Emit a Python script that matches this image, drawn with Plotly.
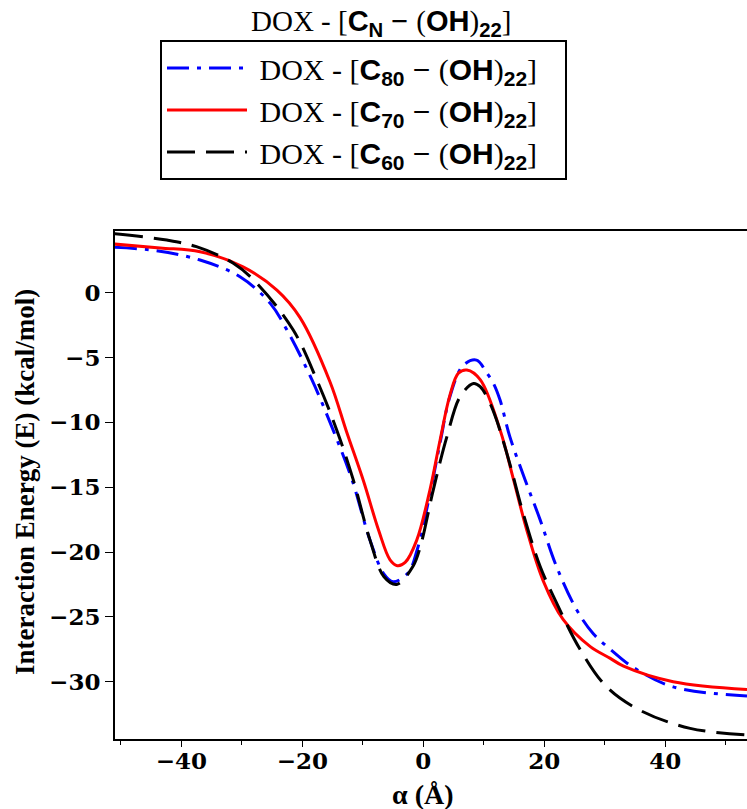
import plotly.graph_objects as go

# ---------------- data ----------------
x_c80 = [-51, -44.1, -36.9, -30.3, -25.3, -22.4, -18.4, -14.9, -11.8, -8.8, -6.5, -5.0,
         -2.5, -1.0, 1.1, 2.8, 4.4, 6.6, 8.8, 10.5, 11.6, 12.7, 14.3, 16.8, 19.3, 22.0,
         25.4, 28.1, 31.4, 34.7, 41.3, 53.5]
e_c80 = [3.50, 3.24, 2.52, 1.23, -0.82, -3.0, -6.73, -10.6, -14.4, -19.1, -21.7, -22.3,
         -21.6, -19.8, -15.5, -11.5, -8.0, -5.6, -5.2, -6.2, -7.0, -8.3, -11.1, -14.4, -17.5, -21.1,
         -24.5, -26.3, -27.7, -28.9, -30.4, -31.1]

x_c70 = [-51, -43.5, -36.9, -29.8, -24.2, -20.4, -15.4, -12.7, -9.9, -7.4, -5.5,
         -4.3, -3.0, -1.1, 1.1, 2.76, 4.4, 5.8, 7.2, 9.4, 12.7, 14.9, 17.1, 19.8, 23.1,
         27.6, 30.9, 33.1, 41.3, 53.5]
e_c70 = [3.75, 3.45, 3.16, 2.0, 0.2, -1.9, -6.9, -10.7, -14.5, -18.3, -20.6,
         -21.05, -20.8, -19.1, -15.2, -11.4, -7.9, -6.2, -5.96, -6.7, -10.6, -14.4, -18.3, -22.2, -25.2,
         -27.3, -28.2, -28.8, -30.0, -30.6]

x_c60 = [-51, -42.4, -37.5, -31.4, -27.5, -21.5, -17.6, -14.3, -11.6, -8.8, -6.5,
         -4.4, -1.7, -0.5, 1.65, 3.9, 6.1, 8.3, 9.4, 11.0, 12.1, 14.3, 16.5, 19.3, 22.0,
         25.9, 30.3, 35.8, 44.1, 53.5]
e_c60 = [4.55, 4.06, 3.55, 2.27, 0.72, -2.88, -6.73, -10.6, -14.4, -19.1, -21.9,
         -22.5, -21.1, -19.6, -15.2, -11.1, -8.0, -7.0, -7.25, -8.5, -9.8, -13.2, -17.0, -21.1, -23.9,
         -27.5, -30.4, -32.2, -33.6, -34.1]

series_n = ["80", "70", "60"]
series_colors = ["#0000ff", "#ff0000", "#000000"]
series_dash = ["22px,8px,4px,8px", "solid", "28px,11px"]

xtick_vals = [-40, -20, 0, 20, 40]
xtick_text = ["\u221240", "\u221220", "0", "20", "40"]
ytick_vals = [0, -5, -10, -15, -20, -25, -30]
ytick_text = ["0", "\u22125", "\u221210", "\u221215", "\u221220", "\u221225", "\u221230"]

SERIF = "Liberation Serif"
SANS = "Liberation Sans"
TICKFONT = "DejaVu Serif"
NB = "\u00a0"


def label(n):
    s = f'<span style="font-family:{SANS}">'
    return (f'{NB}DOX - [{s}<b>C<sub>{n}</sub></b></span>{s} \u2212 </span>'
            f'({s}<b>OH</b></span>)<sub>{s}<b>22</b></span></sub>]{NB}{NB}{NB}')


fig = go.Figure()
for xs, ys, n, c, d in zip([x_c80, x_c70, x_c60], [e_c80, e_c70, e_c60],
                           series_n, series_colors, series_dash):
    fig.add_trace(go.Scatter(x=xs, y=ys, mode="lines", name=label(n),
                             line=dict(color=c, width=3, dash=d, shape="spline", smoothing=1.0)))

W, H = 747, 809
L, R, T, B = 115, 0, 231, 809 - 739
pw, ph = W - L - R, H - T - B


def px(xp):
    return (xp - L) / pw


def py(yp):
    return (H - B - yp) / ph


fig.update_layout(
    width=W, height=H,
    margin=dict(l=L, r=R, t=T, b=B, autoexpand=False),
    paper_bgcolor="white", plot_bgcolor="white",
    showlegend=True,
    legend=dict(
        x=px(160), y=py(40),
        xanchor="left", yanchor="top",
        bgcolor="white", bordercolor="black", borderwidth=2,
        font=dict(family=SERIF, size=30, color="black"),
        itemwidth=80, tracegroupgap=0,
    ),
    xaxis=dict(
        range=[-50.96, 53.5], showgrid=False, zeroline=False,
        showline=True, linecolor="black", linewidth=2, mirror=True,
        ticks="outside", ticklen=6, tickwidth=1, tickcolor="black",
        tickvals=xtick_vals, ticktext=xtick_text, ticklabelstandoff=-6,
        tickfont=dict(family=TICKFONT, size=23, color="black", weight="bold"),
        minor=dict(dtick=10, tick0=0, ticks="outside", ticklen=4, tickcolor="black", tickwidth=1),
    ),
    yaxis=dict(
        range=[-34.42, 4.76], showgrid=False, zeroline=False,
        showline=True, linecolor="black", linewidth=2,
        ticks="outside", ticklen=8, tickwidth=1, tickcolor="black",
        tickvals=ytick_vals, ticktext=ytick_text,
        tickfont=dict(family=TICKFONT, size=23, color="black", weight="bold"),
    ),
)

fig.add_annotation(
    text=f'DOX - [<span style="font-family:{SANS}"><b>C<sub>N</sub></b> \u2212 </span>'
         f'(<span style="font-family:{SANS}"><b>OH</b></span>)<sub><span style="font-family:{SANS}"><b>22</b></span></sub>]',
    xref="paper", yref="paper", x=px(381), y=py(23),
    xanchor="center", yanchor="middle", showarrow=False,
    font=dict(family=SERIF, size=29, color="black"))
fig.add_annotation(
    text="<b>Interaction Energy (E) (kcal/mol)</b>",
    xref="paper", yref="paper", x=px(25), y=py(482),
    xanchor="center", yanchor="middle", textangle=-90, showarrow=False,
    font=dict(family=SERIF, size=27, color="black"))
fig.add_annotation(
    text="<b>\u03b1 (\u00c5)</b>",
    xref="paper", yref="paper", x=px(423), y=py(794),
    xanchor="center", yanchor="middle", showarrow=False,
    font=dict(family=SERIF, size=28, color="black"))

fig.write_html(
    "out.html",
    config={"displayModeBar": False},
    post_script="document.body.style.margin='0';document.body.style.overflow='hidden';",
)
